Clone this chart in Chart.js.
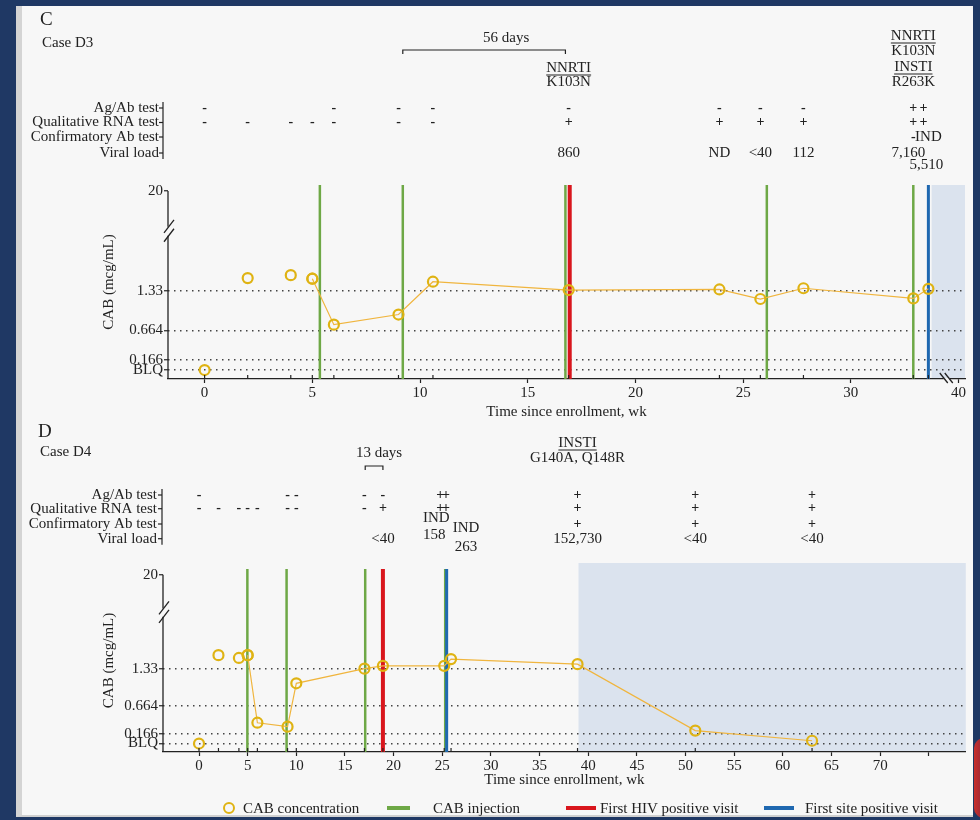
<!DOCTYPE html>
<html>
<head>
<meta charset="utf-8">
<script src="https://cdn.jsdelivr.net/npm/chart.js@4.4.1/dist/chart.umd.min.js"></script>
<style>
  html, body { margin: 0; padding: 0; }
  body { width: 980px; height: 820px; background: #1f3864; position: relative; overflow: hidden;
         font-family: "Liberation Serif", "DejaVu Serif", serif; color: #222; }
  #panel { position: absolute; left: 16px; top: 6px; width: 957px; height: 811px; background: #f7f7f7;
           border-left: 6px solid #d4d4d4; border-bottom: 2px solid #d0d0d0; box-sizing: border-box; }
  #deco { position: absolute; left: 974px; top: 738px; width: 14px; height: 80px; border-radius: 10px 0 0 10px;
          background: linear-gradient(90deg, #c9302c, #7b2040); }
  canvas { position: absolute; left: 16px; }
  #chartC { top: 6px; }
  #chartD { top: 415px; }
  .lg { position: absolute; top: 800px; height: 16px; line-height: 16px; font-size: 15px; white-space: nowrap; }
  .ring { position: absolute; top: 802px; width: 8px; height: 8px; border-radius: 50%; border: 2.2px solid #dfb313; }
  .bar { position: absolute; top: 806px; height: 4px; }
</style>
</head>
<body>
<div id="panel"></div>
<div id="deco"></div>
<canvas id="chartC" width="957" height="419"></canvas>
<canvas id="chartD" width="957" height="402"></canvas>
<div id="legend"></div>
<script>
// ✅ 공통 값
const SERIF = '"Liberation Serif", "DejaVu Serif", serif';
const INK = '#222';
const PANEL_BG = '#f7f7f7';
const CAB_RING = '#dfb313';
const CAB_LINE = '#f0b53e';
const GREEN = '#6ea846';
const RED = '#d9161d';
const BLUE = '#1f68b0';
const SHADE = '#dbe3ee';
const Y_MIN = -0.15;
const Y_MAX = 3.1;

// y axis (BLQ drawn at 0, axis broken above 2.3)
const yTickValues = [0, 0.166, 0.664, 1.33, 20];
const yTickLabels = ['BLQ', '0.166', '0.664', '1.33', '20'];
const rowLabels = ['Ag/Ab test', 'Qualitative RNA test', 'Confirmatory Ab test', 'Viral load'];

// 🔹 Case D3
const d3Weeks   = [0, 2, 4, 5, 6, 9, 10.6, 16.9, 23.9, 25.8, 27.8, 32.9, 33.6];
const d3Cab     = [0, 1.54, 1.59, 1.53, 0.76, 0.93, 1.48, 1.34, 1.35, 1.19, 1.37, 1.2, 1.36];
const d3LineFrom = 3;
const d3AgAb    = ['-', '', '', '', '-', '-', '-', '-', '-', '-', '-', '+', '+'];
const d3Rna     = ['-', '-', '-', '-', '-', '-', '-', '+', '+', '+', '+', '+', '+'];
const d3Confirm = ['', '', '', '', '', '', '', '', '', '', '', '-', 'IND'];
const d3Viral   = ['', '', '', '', '', '', '', '860', 'ND', '<40', '112', '7,160', '5,510'];
const d3Injections = [5.35, 9.2, 16.75, 26.1, 32.9];
const d3FirstHiv = 16.95;
const d3FirstSite = 33.6;
const d3ShadeFrom = 33.75;
const d3XTicks  = [0, 5, 10, 15, 20, 25, 30, 40];
const d3XLabels = ['0', '5', '10', '15', '20', '25', '30', '40'];
const d3MutA = ['NNRTI', 'K103N'];
const d3MutB = ['NNRTI', 'K103N', 'INSTI', 'R263K'];

// 🔹 Case D4
const d4Weeks   = [0, 2, 4.1, 5, 6, 9.1, 10, 17, 18.9, 25.2, 25.9, 38.9, 51, 63];
const d4Cab     = [0, 1.57, 1.52, 1.57, 0.37, 0.3, 1.07, 1.33, 1.38, 1.38, 1.5, 1.41, 0.23, 0.05];
const d4LineFrom = 3;
const d4AgAb    = ['-', '', '', '', '', '-', '-', '-', '-', '+', '+', '+', '+', '+'];
const d4Rna     = ['-', '-', '-', '-', '-', '-', '-', '-', '+', '+', '+', '+', '+', '+'];
const d4Confirm = ['', '', '', '', '', '', '', '', '', 'IND', 'IND', '+', '+', '+'];
const d4Viral   = ['', '', '', '', '', '', '', '', '<40', '158', '263', '152,730', '<40', '<40'];
const d4Injections = [4.97, 9.0, 17.08, 25.3];
const d4FirstHiv = 18.9;
const d4FirstSite = 25.45;
const d4ShadeFrom = 39;
const d4XTicks  = [0, 5, 10, 15, 20, 25, 30, 35, 40, 45, 50, 55, 60, 65, 70, 75];
const d4XLabels = ['0', '5', '10', '15', '20', '25', '30', '35', '40', '45', '50', '55', '60', '65', '70', ''];
const d4Mut = ['INSTI', 'G140A, Q148R'];

const legendItems = [
  { label: 'CAB concentration', kind: 'ring', color: CAB_RING },
  { label: 'CAB injection', kind: 'bar', color: GREEN },
  { label: 'First HIV positive visit', kind: 'bar', color: RED },
  { label: 'First site positive visit', kind: 'bar', color: BLUE }
];

// 🔹 축 끊김 변환
function yBreak(v) {
  return v <= 2.3 ? v : 2.3 + (v - 2.3) * 0.7 / 17.7;
}
function xBreakC(w) {
  return w <= 34 ? w : 34 + (w - 34) / 6;
}
function xPlain(w) {
  return w;
}

const panelC = {
  letter: 'C', caseLabel: 'Case D3', letterX: 24, letterY: 14, caseY: 37,
  weeks: d3Weeks, cab: d3Cab, lineFrom: d3LineFrom,
  injections: d3Injections, firstHiv: d3FirstHiv, firstSite: d3FirstSite,
  shadeFrom: d3ShadeFrom, shadeLift: 0,
  xMap: xBreakC, xMin: -1.7, xMax: 35.3, xTicks: d3XTicks, xLabels: d3XLabels, xBreakAt: 34.5,
  pad: { top: 179, left: 80, right: 8, bottom: 0 }, yWidth: 72, xHeight: 46,
  rows: [d3AgAb, d3Rna, d3Confirm, d3Viral], rowY: [102, 116.5, 131, 147], rowLabelX: 143, rowRuleX: 147,
  nudges: [{ row: 3, i: 11, dx: -5, dy: 0 }, { row: 3, i: 12, dx: -2, dy: 12 },
           { row: 0, i: 12, dx: -5, dy: 0 }, { row: 1, i: 12, dx: -5, dy: 0 }],
  mutations: [
    { at: 7, lines: d3MutA, ys: [62, 76], underline: [true, false] },
    { at: 11, lines: d3MutB, ys: [30, 45, 61, 76], underline: [true, false, true, false] }
  ],
  span: { from: d3Injections[1], to: d3Injections[2], label: '56 days', y: 44, textY: 32, textDx: 22 }
};

const panelD = {
  letter: 'D', caseLabel: 'Case D4', letterX: 22, letterY: 17, caseY: 37,
  weeks: d4Weeks, cab: d4Cab, lineFrom: d4LineFrom,
  injections: d4Injections, firstHiv: d4FirstHiv, firstSite: d4FirstSite,
  shadeFrom: d4ShadeFrom, shadeLift: 6,
  xMap: xPlain, xMin: -3.7, xMax: 78.8, xTicks: d4XTicks, xLabels: d4XLabels, xBreakAt: null,
  pad: { top: 154, left: 80, right: 6, bottom: 24 }, yWidth: 67, xHeight: 41,
  rows: [d4AgAb, d4Rna, d4Confirm, d4Viral], rowY: [80, 93.7, 109, 123.7], rowLabelX: 141, rowRuleX: 146,
  nudges: [{ row: 2, i: 9, dx: -8, dy: -6 }, { row: 2, i: 10, dx: 15, dy: 4 },
           { row: 3, i: 9, dx: -10, dy: -4 }, { row: 3, i: 10, dx: 15, dy: 8 },
           { row: 0, i: 9, dx: -4, dy: 0 }, { row: 0, i: 10, dx: -5, dy: 0 },
           { row: 1, i: 9, dx: -4, dy: 0 }, { row: 1, i: 10, dx: -5, dy: 0 }],
  mutations: [
    { at: 11, lines: d4Mut, ys: [28, 43], underline: [true, false] }
  ],
  span: { from: d4Injections[2], to: d4FirstHiv, label: '13 days', y: 51, textY: 38, textDx: 5 }
};

function strokeLine(ctx, x1, y1, x2, y2) {
  ctx.beginPath();
  ctx.moveTo(x1, y1);
  ctx.lineTo(x2, y2);
  ctx.stroke();
}

// 🔹 검사 결과 / 주석 그리기
function panelPlugin(p) {
  return {
    id: 'panel' + p.letter,
    beforeDraw(chart) {
      const { ctx, chartArea: a, scales: { x } } = chart;
      const x0 = x.getPixelForValue(p.xMap(p.shadeFrom));
      ctx.save();
      ctx.fillStyle = SHADE;
      ctx.fillRect(x0, a.top - p.shadeLift, a.right - x0, a.bottom - a.top + p.shadeLift);
      ctx.restore();
    },
    afterDraw(chart) {
      const { ctx, chartArea: a, scales: { x, y } } = chart;
      const px = w => x.getPixelForValue(p.xMap(w));
      ctx.save();
      ctx.fillStyle = INK;
      ctx.strokeStyle = INK;
      ctx.lineWidth = 1.2;
      ctx.textBaseline = 'middle';

      ctx.textAlign = 'left';
      ctx.font = `19px ${SERIF}`;
      ctx.fillText(p.letter, p.letterX, p.letterY);
      ctx.font = `15px ${SERIF}`;
      ctx.fillText(p.caseLabel, p.letterX + 2, p.caseY);

      // 내성 변이
      ctx.textAlign = 'center';
      p.mutations.forEach(m => {
        const cx = px(p.weeks[m.at]);
        m.lines.forEach((t, k) => {
          ctx.fillText(t, cx, m.ys[k]);
          if (m.underline[k]) {
            const w = ctx.measureText(t).width;
            strokeLine(ctx, cx - w / 2, m.ys[k] + 7, cx + w / 2, m.ys[k] + 7);
          }
        });
      });

      // 기간 괄호
      const s = p.span;
      const sx0 = px(s.from), sx1 = px(s.to);
      ctx.beginPath();
      ctx.moveTo(sx0, s.y + 4);
      ctx.lineTo(sx0, s.y);
      ctx.lineTo(sx1, s.y);
      ctx.lineTo(sx1, s.y + 4);
      ctx.stroke();
      ctx.fillText(s.label, (sx0 + sx1) / 2 + s.textDx, s.textY);

      // 행 이름
      ctx.textAlign = 'right';
      rowLabels.forEach((t, r) => ctx.fillText(t, p.rowLabelX, p.rowY[r]));
      strokeLine(ctx, p.rowRuleX, p.rowY[0] - 6, p.rowRuleX, p.rowY[3] + 6);
      p.rowY.forEach(ry => strokeLine(ctx, p.rowRuleX - 4, ry, p.rowRuleX, ry));

      // 검사 결과
      ctx.textAlign = 'center';
      p.rows.forEach((marks, r) => {
        marks.forEach((m, i) => {
          if (!m) return;
          const n = p.nudges.find(q => q.row === r && q.i === i) || { dx: 0, dy: 0 };
          ctx.font = (m === '+' || m === '-') ? `bold 14px ${SERIF}` : `15px ${SERIF}`;
          ctx.fillText(m, px(p.weeks[i]) + n.dx, p.rowY[r] + n.dy);
        });
      });

      // y축 선 + 끊김 표시
      ctx.lineWidth = 1.3;
      const ax = a.left;
      const yTop = y.getPixelForValue(yBreak(20));
      const g1 = y.getPixelForValue(2.4);
      const g0 = y.getPixelForValue(2.25);
      strokeLine(ctx, ax, yTop, ax, g1);
      strokeLine(ctx, ax, g0, ax, a.bottom);
      strokeLine(ctx, ax - 4, g1 + 6, ax + 6, g1 - 7);
      strokeLine(ctx, ax - 4, g0 + 6, ax + 6, g0 - 7);

      // x축 끊김 표시
      if (p.xBreakAt != null) {
        const bx = x.getPixelForValue(p.xBreakAt);
        ctx.fillStyle = PANEL_BG;
        ctx.fillRect(bx - 4, a.bottom - 1, 6, 2.5);
        strokeLine(ctx, bx - 8, a.bottom - 6, bx, a.bottom + 4);
        strokeLine(ctx, bx - 3, a.bottom - 6, bx + 5, a.bottom + 4);
      }

      // 방문 시점 눈금 (안쪽)
      ctx.lineWidth = 1.2;
      p.weeks.forEach(w => strokeLine(ctx, px(w), a.bottom, px(w), a.bottom - 4));
      ctx.restore();
    }
  };
}

// 🔹 차트 생성
function buildChart(id, p) {
  const connected = p.weeks.slice(p.lineFrom).map((w, k) => ({ x: p.xMap(w), y: yBreak(p.cab[k + p.lineFrom]) }));
  const loose = p.weeks.slice(0, p.lineFrom + 1).map((w, k) => ({ x: p.xMap(w), y: yBreak(p.cab[k]) }));
  const vlines = ws => ws.flatMap(w => [
    { x: p.xMap(w), y: Y_MIN }, { x: p.xMap(w), y: Y_MAX }, { x: p.xMap(w), y: null }
  ]);
  const ring = {
    pointRadius: 5, pointHoverRadius: 5, pointBorderWidth: 2.2,
    pointBorderColor: CAB_RING, pointBackgroundColor: 'rgba(0,0,0,0)'
  };
  const font = { family: SERIF, size: 15 };

  return new Chart(document.getElementById(id), {
    type: 'line',
    data: {
      datasets: [
        { label: 'CAB concentration', data: connected, showLine: true, borderColor: CAB_LINE,
          borderWidth: 1.2, tension: 0, order: 0, ...ring },
        { label: 'CAB concentration', data: loose, showLine: false, order: 0, ...ring },
        { label: 'CAB injection', data: vlines(p.injections), borderColor: GREEN, borderWidth: 2.5,
          pointRadius: 0, order: 3 },
        { label: 'First HIV positive visit', data: vlines([p.firstHiv]), borderColor: RED, borderWidth: 4,
          pointRadius: 0, order: 2 },
        { label: 'First site positive visit', data: vlines([p.firstSite]), borderColor: BLUE, borderWidth: 3,
          pointRadius: 0, order: 1 }
      ]
    },
    options: {
      responsive: false,
      animation: false,
      events: [],
      layout: { padding: p.pad },
      plugins: { legend: { display: false }, tooltip: { enabled: false } },
      scales: {
        x: {
          type: 'linear', min: p.xMin, max: p.xMax,
          afterFit: sc => { sc.height = p.xHeight; },
          afterBuildTicks: sc => { sc.ticks = p.xTicks.map(v => ({ value: p.xMap(v) })); },
          ticks: { autoSkip: false, maxRotation: 0, font, color: INK, padding: 1,
                   callback: (v, i) => p.xLabels[i] },
          grid: { drawOnChartArea: false, tickLength: 4, tickColor: INK, tickWidth: 1.2 },
          border: { display: true, color: INK, width: 1.3 },
          title: { display: true, text: 'Time since enrollment, wk', font, color: INK }
        },
        y: {
          type: 'linear', min: Y_MIN, max: Y_MAX,
          afterFit: sc => { sc.width = p.yWidth; },
          afterBuildTicks: sc => { sc.ticks = yTickValues.map(v => ({ value: yBreak(v) })); },
          ticks: { autoSkip: false, font, color: INK, padding: 1,
                   callback: (v, i) => yTickLabels[i] },
          grid: {
            drawOnChartArea: true,
            color: c => (c.index === yTickValues.length - 1 ? 'rgba(0,0,0,0)' : '#444'),
            lineWidth: 1.5, tickLength: 4, tickColor: INK, tickWidth: 1.2
          },
          border: { display: false, dash: [1.5, 4.5] },
          title: { display: true, text: 'CAB (mcg/mL)', font, color: INK }
        }
      }
    },
    plugins: [panelPlugin(p)]
  });
}

// 🔹 범례 (HTML)
function buildLegend() {
  const slots = [
    { mark: 223, w: 0, text: 243 },
    { mark: 387, w: 23, text: 433 },
    { mark: 566, w: 30, text: 600 },
    { mark: 764, w: 30, text: 805 }
  ];
  const box = document.getElementById('legend');
  legendItems.forEach((it, k) => {
    const m = document.createElement('span');
    if (it.kind === 'ring') {
      m.className = 'ring';
      m.style.borderColor = it.color;
    } else {
      m.className = 'bar';
      m.style.width = slots[k].w + 'px';
      m.style.background = it.color;
    }
    m.style.left = slots[k].mark + 'px';
    box.appendChild(m);
    const t = document.createElement('span');
    t.className = 'lg';
    t.style.left = slots[k].text + 'px';
    t.textContent = it.label;
    box.appendChild(t);
  });
}

buildChart('chartC', panelC);
buildChart('chartD', panelD);
buildLegend();
</script>
</body>
</html>
